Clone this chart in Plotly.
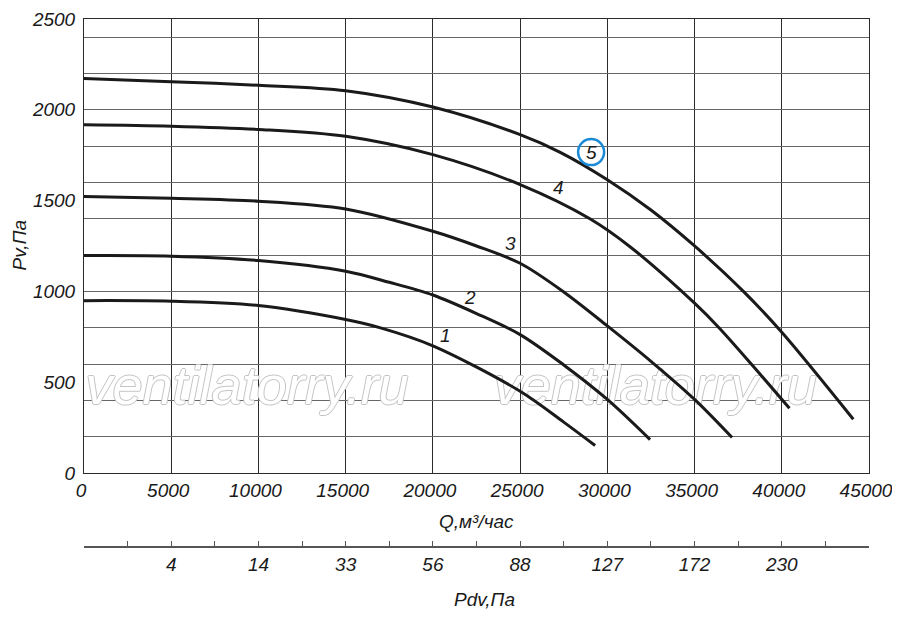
import plotly.graph_objects as go

# расход Q, м3/час и давление Pv, Па для кривых 1..5
q1 = [0, 5000, 10000, 15000, 17000, 20000, 25000, 27500, 29300]
pv1 = [949, 946, 922, 845, 799, 700, 450, 280, 151]

q2 = [0, 5000, 10000, 15000, 17500, 20000, 22500, 25000, 27500, 30000, 32450]
pv2 = [1197, 1194, 1170, 1111, 1050, 980, 878, 762, 595, 405, 184]

q3 = [0, 5000, 10000, 15000, 20000, 22500, 25000, 27500, 30000, 32500, 35000, 37150]
pv3 = [1523, 1513, 1497, 1454, 1331, 1250, 1155, 997, 810, 615, 405, 195]

q4 = [0, 5000, 10000, 15000, 20000, 25000, 29000, 31300, 35000, 36400, 38250, 40440]
pv4 = [1918, 1910, 1892, 1854, 1753, 1588, 1400, 1246, 935, 800, 600, 356]

q5 = [0, 5000, 10000, 15000, 20000, 25000, 27300, 30000, 32500, 35000, 37800, 40000, 44100]
pv5 = [2172, 2155, 2135, 2105, 2015, 1863, 1766, 1615, 1448, 1250, 1000, 775, 296]

curves = [(q1, pv1), (q2, pv2), (q3, pv3), (q4, pv4), (q5, pv5)]
curve_names = ['1', '2', '3', '4', '5']

# шкала динамического давления Pdv под осью Q
pdv_q = [5000, 10000, 15000, 20000, 25000, 30000, 35000, 40000]
pdv_labels = ['4', '14', '33', '56', '88', '127', '172', '230']

q_ticks = [0, 5000, 10000, 15000, 20000, 25000, 30000, 35000, 40000, 45000]
pv_ticks = [0, 500, 1000, 1500, 2000, 2500]

tick_font = dict(family='Liberation Sans, Arial', size=19, color='#1a1a1a', style='italic')
title_font = dict(family='Liberation Sans, Arial', size=19, color='#1a1a1a', style='italic')

fig = go.Figure()

# сетка по давлению через 200 Па (отдельная ось)
fig.add_trace(go.Scatter(x=[0, 45000], y=[0, 0], yaxis='y2', mode='lines',
                         line=dict(width=0), hoverinfo='skip', showlegend=False))

# водяной знак
wm = dict(family='Liberation Sans, Arial', size=54, color='white', style='italic',
          shadow='1px 0 0 #c4c4c4, -1px 0 0 #c4c4c4, 0 1px 0 #c4c4c4, 0 -1px 0 #c4c4c4')
fig.add_trace(go.Scatter(x=[9350, 32750], y=[455, 455], mode='text',
                         text=['ventilatorry.ru', 'ventilatorry.ru'],
                         textfont=wm, hoverinfo='skip', showlegend=False))

for (q, pv), name in zip(curves, curve_names):
    fig.add_trace(go.Scatter(x=q, y=pv, mode='lines', name=name,
                             line=dict(color='#1a1a1a', width=3, shape='spline', smoothing=0.9),
                             showlegend=False))

# невидимая трасса для второй оси
fig.add_trace(go.Scatter(x=[0, 45000], y=[0, 0], xaxis='x2', mode='lines',
                         line=dict(width=0), hoverinfo='skip', showlegend=False))

label_pos = [(20700, 759), (22130, 969), (24430, 1266), (27180, 1574), (29070, 1767)]
annotations = []
for (lx, ly), name in zip(label_pos, curve_names):
    annotations.append(dict(x=lx, y=ly, text=name, showarrow=False,
                            font=dict(family='Liberation Sans, Arial', size=19,
                                      color='#1a1a1a', style='italic')))

annotations += [
    dict(x=0.5, y=0.049, xref='paper', yref='paper', text='Q,м³/час', showarrow=False,
         font=title_font, xanchor='center', yanchor='middle'),
    dict(x=0.51, y=-0.100, xref='paper', yref='paper', text='Pdv,Па', showarrow=False,
         font=title_font, xanchor='center', yanchor='middle'),
    dict(x=-0.081, y=0.572, xref='paper', yref='paper', text='Pv,Па', showarrow=False,
         font=title_font, textangle=-90, xanchor='center', yanchor='middle'),
]

pdv_vals = list(range(0, 45001, 2500))
pdv_text = [pdv_labels[pdv_q.index(v)] if v in pdv_q else '' for v in pdv_vals]

# страница добавляет 8px отступа, поэтому фигура чуть меньше окна
fig.update_layout(
    width=892, height=612,
    margin=dict(l=76, r=31, t=11, b=73),
    paper_bgcolor='white', plot_bgcolor='white',
    xaxis=dict(range=[0, 45000], tickvals=q_ticks, ticktext=[str(v) for v in q_ticks],
               showgrid=True, gridcolor='#2a2a2a', gridwidth=1, zeroline=False,
               showline=True, linecolor='#2a2a2a', linewidth=1, mirror=True,
               tickfont=tick_font, ticks='', anchor='y', automargin=False,
               ticklabelshift=-3),
    yaxis=dict(range=[0, 2500], domain=[0.1402, 1], tickvals=pv_ticks,
               ticktext=[str(v) for v in pv_ticks], showgrid=False, zeroline=False,
               showline=True, linecolor='#2a2a2a', linewidth=1, mirror=True,
               tickfont=tick_font, ticks='', ticklabelstandoff=4, automargin=False),
    yaxis2=dict(range=[0, 2500], overlaying='y', dtick=200, tick0=0,
                showgrid=True, gridcolor='#666666', gridwidth=1.3,
                showticklabels=False, zeroline=False, ticks='', automargin=False),
    xaxis2=dict(range=[0, 45000], overlaying='x', anchor='free', position=0, side='bottom',
                tickvals=pdv_vals, ticktext=pdv_text, ticks='inside', ticklen=5,
                tickcolor='#555555', showgrid=False, zeroline=False,
                showline=True, linecolor='#555555', linewidth=1.5, automargin=False,
                tickfont=tick_font),
    shapes=[dict(type='circle', xref='x', yref='y', xsizemode='pixel', ysizemode='pixel',
                 xanchor=29070, yanchor=1767, x0=-13, x1=13, y0=-13, y1=13,
                 line=dict(color='#1a8ad6', width=2.5))],
    annotations=annotations,
)

fig.write_html('out.html')
